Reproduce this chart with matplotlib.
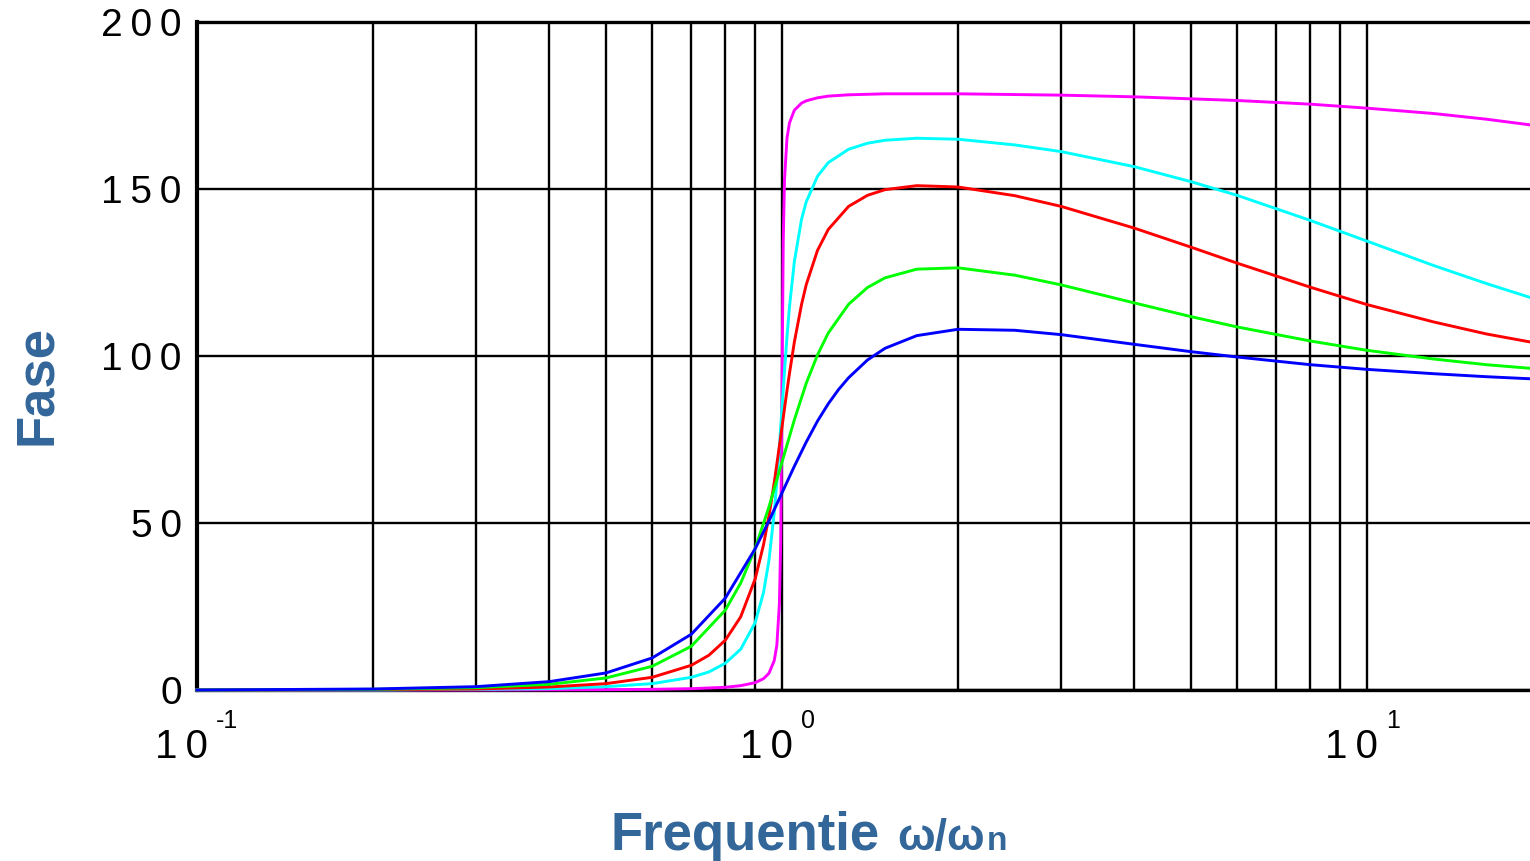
import matplotlib

matplotlib.use("Agg")
import matplotlib.pyplot as plt
from matplotlib.ticker import FixedLocator, NullFormatter

plt.rcParams["font.family"] = ["Liberation Sans", "DejaVu Sans"]

# frequency ratio w/wn and phase (degrees)
freq_blue = [0.1, 0.2, 0.3, 0.4, 0.5, 0.6, 0.7, 0.8, 0.9, 0.95, 1.0, 1.05, 1.1, 1.15, 1.2,
             1.25, 1.3, 1.4, 1.5, 1.7, 2.0, 2.5, 3, 4, 5, 6, 8, 10, 13, 16, 20]
phase_blue = [0.0, 0.3, 1.0, 2.5, 5.1, 9.6, 16.7, 27.5, 42.3, 50.6, 59.0, 67.0, 74.2, 80.5, 85.7,
              90.0, 93.5, 98.8, 102.3, 106.1, 108.0, 107.7, 106.4, 103.5, 101.3, 99.7, 97.4, 96.0,
              94.7, 93.8, 93.0]

freq_green = [0.1, 0.2, 0.3, 0.4, 0.5, 0.6, 0.7, 0.8, 0.85, 0.9, 0.95, 1.0, 1.05, 1.1, 1.15,
              1.2, 1.3, 1.4, 1.5, 1.7, 2.0, 2.5, 3, 4, 5, 6, 8, 10, 13, 16, 20]
phase_green = [0.0, 0.2, 0.7, 1.7, 3.6, 7.1, 13.1, 23.9, 32.0, 42.4, 54.8, 68.2, 80.9, 91.8, 100.3,
               106.9, 115.5, 120.5, 123.4, 126.0, 126.4, 124.2, 121.3, 115.9, 111.8, 108.7, 104.5,
               101.7, 99.1, 97.4, 96.0]

freq_red = [0.1, 0.2, 0.3, 0.4, 0.5, 0.6, 0.7, 0.75, 0.8, 0.85, 0.9, 0.93, 0.95, 0.97, 0.99,
            1.0, 1.01, 1.02, 1.03, 1.05, 1.08, 1.1, 1.15, 1.2, 1.3, 1.4, 1.5, 1.7, 2.0, 2.5, 3,
            4, 5, 6, 8, 10, 13, 16, 20]
phase_red = [0.0, 0.1, 0.3, 0.9, 1.9, 3.8, 7.4, 10.4, 14.9, 21.9, 33.3, 43.5, 52.1, 62.1, 73.1,
             78.7, 84.3, 89.7, 94.8, 104.2, 115.4, 121.3, 131.6, 137.9, 144.8, 148.1, 149.8, 151.0,
             150.6, 148.0, 144.8, 138.3, 132.6, 127.8, 120.6, 115.4, 110.2, 106.6, 103.5]

freq_cyan = [0.1, 0.2, 0.3, 0.4, 0.5, 0.6, 0.7, 0.75, 0.8, 0.85, 0.9, 0.93, 0.95, 0.97, 0.98,
             0.99, 1.0, 1.01, 1.02, 1.03, 1.05, 1.08, 1.1, 1.15, 1.2, 1.3, 1.4, 1.5, 1.7, 2.0,
             2.5, 3, 4, 5, 6, 8, 10, 13, 16, 20]
phase_cyan = [0.0, 0.0, 0.2, 0.4, 1.0, 1.9, 3.8, 5.4, 8.0, 12.2, 20.2, 29.2, 38.8, 53.1, 62.4,
              73.0, 84.3, 95.5, 105.8, 114.7, 128.3, 140.9, 146.1, 153.8, 157.9, 161.9, 163.7,
              164.6, 165.2, 164.9, 163.2, 161.2, 156.7, 152.2, 148.1, 140.6, 134.4, 127.1, 121.7,
              116.3]

freq_magenta = [0.1, 0.3, 0.5, 0.6, 0.7, 0.8, 0.85, 0.9, 0.93, 0.95, 0.97, 0.98, 0.99, 0.995,
                1.0, 1.005, 1.01, 1.02, 1.03, 1.05, 1.08, 1.1, 1.15, 1.2, 1.3, 1.5, 2, 3, 4, 5,
                6, 8, 10, 13, 16, 20]
phase_magenta = [0.0, 0.0, 0.1, 0.2, 0.4, 0.8, 1.3, 2.2, 3.4, 5.0, 8.8, 13.4, 25.9, 44.4, 89.4,
                 134.4, 152.8, 165.3, 169.8, 173.6, 175.7, 176.4, 177.3, 177.8, 178.2, 178.5,
                 178.5, 178.1, 177.6, 177.0, 176.5, 175.4, 174.2, 172.6, 170.9, 168.7]

y_ticks = [0, 50, 100, 150, 200]
y_tick_labels = ["0", "5\u20090", "1\u20090\u20090", "1\u20095\u20090", "2\u20090\u20090"]
decades = [-1, 0, 1]

label_blue = "#336699"

fig = plt.figure(figsize=(15.3, 8.61), dpi=100)
fig.patch.set_facecolor("white")
ax = fig.add_axes([197 / 1530, (861 - 690) / 861, (1530 - 197) / 1530, (690 - 22) / 861])

curves = [
    (freq_magenta, phase_magenta, "#ff00ff"),
    (freq_cyan, phase_cyan, "#00ffff"),
    (freq_red, phase_red, "#ff0000"),
    (freq_green, phase_green, "#00ff00"),
    (freq_blue, phase_blue, "#0000ff"),
]
for i, (f, p, c) in enumerate(curves):
    ax.plot(f, p, color=c, linewidth=2.1, zorder=3 + i * 0.1, clip_on=False)

ax.set_xscale("log")
ax.set_xlim(0.1, 19.0)
ax.set_ylim(0, 200)

ax.xaxis.set_major_locator(FixedLocator([0.1, 1, 10]))
ax.xaxis.set_minor_locator(FixedLocator([m * 10.0 ** d for d in (-1, 0) for m in range(2, 10)]))
ax.xaxis.set_major_formatter(NullFormatter())
ax.xaxis.set_minor_formatter(NullFormatter())
ax.set_yticks(y_ticks, y_tick_labels)
ax.tick_params(axis="both", which="both", length=0)
ax.tick_params(axis="y", labelsize=28, pad=11, colors="black")

ax.grid(which="both", axis="x", color="black", linewidth=1.7)
ax.grid(which="major", axis="y", color="black", linewidth=1.7)
ax.set_axisbelow(True)

ax.spines["right"].set_visible(False)
ax.spines["left"].set_linewidth(3.0)
ax.spines["top"].set_linewidth(2.4)
ax.spines["bottom"].set_linewidth(2.4)

# decade labels drawn as "10" plus a separate small exponent
for d in decades:
    ax.annotate("1\u20090", xy=(10.0 ** d, 0), xycoords=("data", "axes fraction"),
                xytext=(8.0, -49), textcoords="offset points",
                ha="right", va="baseline", fontsize=29)
    ax.annotate("-1" if d < 0 else str(d), xy=(10.0 ** d, 0), xycoords=("data", "axes fraction"),
                xytext=(13.5, -27), textcoords="offset points",
                ha="left", va="baseline", fontsize=18)

fig.text(37 / 1530, 1 - 385 / 861, "Fase", rotation=90, fontsize=38, fontweight="bold",
         color=label_blue, ha="center", va="center")
fig.text(611 / 1530, 11 / 861, "Frequentie", fontsize=38, fontweight="bold",
         color=label_blue, ha="left", va="baseline")
fig.text(897 / 1530, 11 / 861, "\u03c9/\u03c9", fontsize=32, fontweight="bold",
         color=label_blue, ha="left", va="baseline")
fig.text(987 / 1530, 11 / 861, "n", fontsize=24, fontweight="bold",
         color=label_blue, ha="left", va="baseline")

fig.savefig("out.png", dpi=100, facecolor="white")
